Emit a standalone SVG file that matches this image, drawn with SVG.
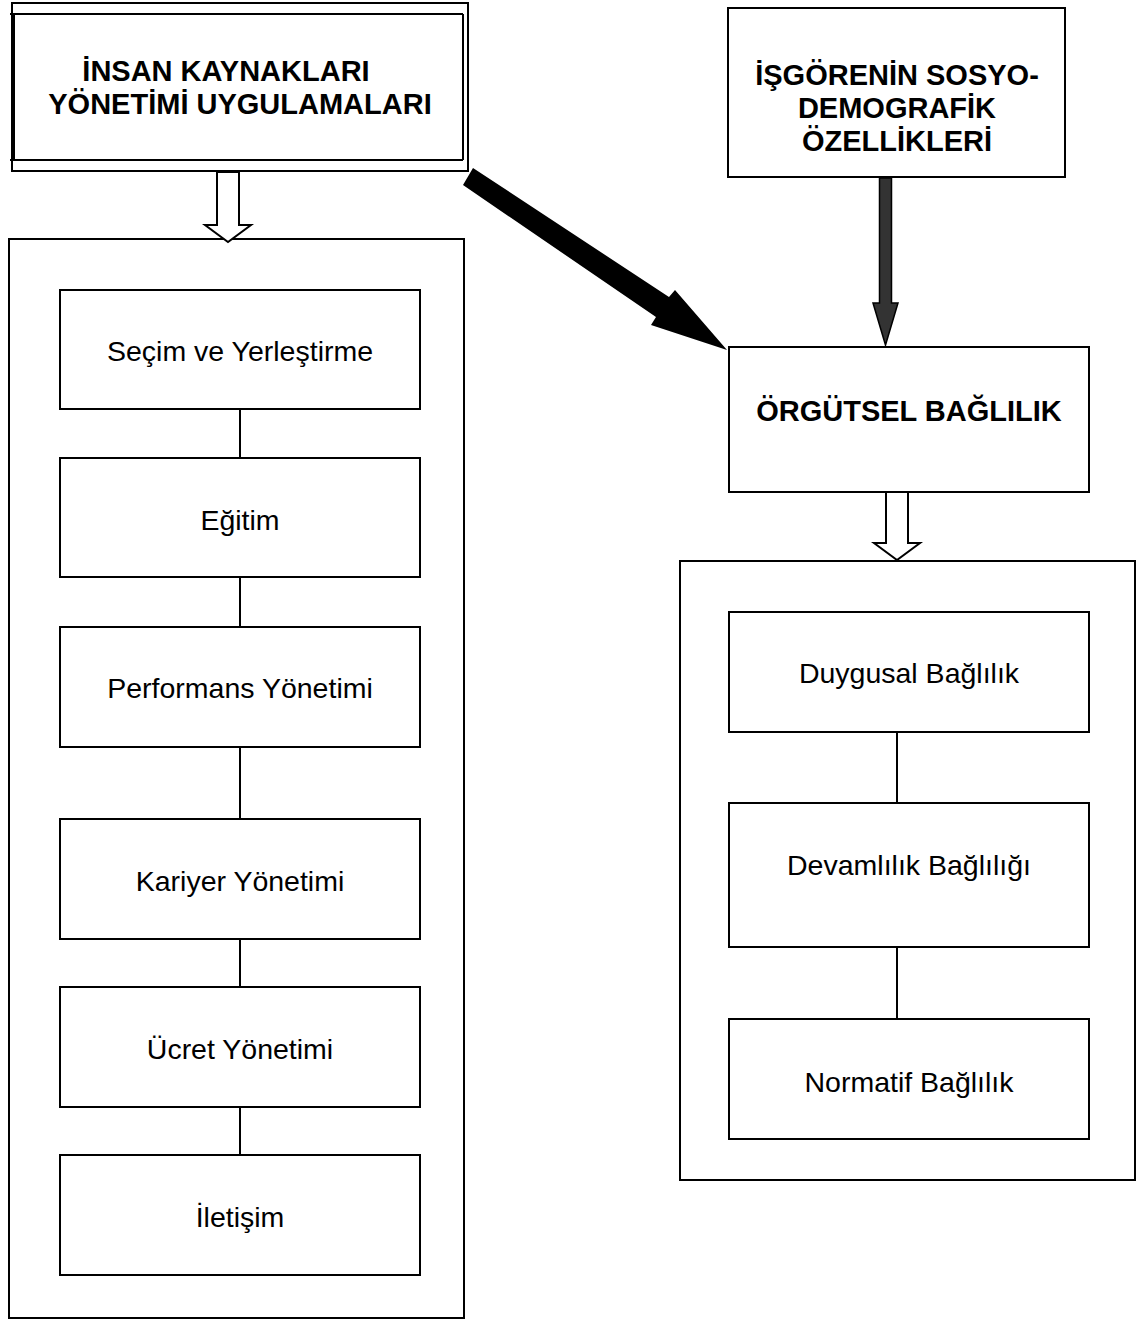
<svg xmlns="http://www.w3.org/2000/svg" width="1143" height="1319" viewBox="0 0 1143 1319">
<style>
.box{fill:#fff;stroke:#000;stroke-width:2}
.frame{fill:none;stroke:#000;stroke-width:2}
.ln{stroke:#000;stroke-width:2;fill:none}
.t{font-family:"Liberation Sans",Arial,sans-serif;font-size:28.5px;fill:#000;text-anchor:middle}
.b{font-family:"Liberation Sans",Arial,sans-serif;font-size:29px;font-weight:bold;fill:#000;text-anchor:middle}
.hollow{fill:#fff;stroke:#000;stroke-width:2;stroke-linejoin:miter}
</style>
<rect width="1143" height="1319" fill="#fff"/>

<g id="frame-left"><rect class="frame" x="9" y="239" width="455" height="1079"/></g>
<g id="frame-right"><rect class="frame" x="680" y="561" width="455" height="619"/></g>

<g id="connectors">
  <line class="ln" x1="240" y1="409" x2="240" y2="458"/>
  <line class="ln" x1="240" y1="577" x2="240" y2="627"/>
  <line class="ln" x1="240" y1="747" x2="240" y2="819"/>
  <line class="ln" x1="240" y1="939" x2="240" y2="987"/>
  <line class="ln" x1="240" y1="1107" x2="240" y2="1155"/>
  <line class="ln" x1="897" y1="732" x2="897" y2="803"/>
  <line class="ln" x1="897" y1="947" x2="897" y2="1019"/>
  <polygon class="hollow" points="217,172 239,172 239,225 251,225 228,242 205,225 217,225"/>
  <polygon class="hollow" points="886,492 908,492 908,543 920,543 897,560 874,543 886,543"/>
  <polygon fill="#333" stroke="#000" stroke-width="1.5" points="879.5,178 891.5,178 891.5,303 898,303 885.5,345 873,303 879.5,303"/>
  <polygon fill="#000" points="473,168 669,297 675,290 727,350 651,325 656,317 463,185"/>
</g>

<g id="node-ik">
  <rect class="frame" x="12" y="3" width="456" height="168"/>
  <line class="ln" x1="10" y1="14" x2="463" y2="14"/>
  <line class="ln" x1="10" y1="160" x2="463" y2="160"/>
  <line class="ln" x1="463" y1="14" x2="463" y2="160"/>
  <line class="ln" x1="14" y1="14" x2="14" y2="160"/>
  <text class="b" x="226" y="81">İNSAN KAYNAKLARI</text>
  <text class="b" x="240" y="114">YÖNETİMİ UYGULAMALARI</text>
</g>

<g id="node-sosyo">
  <rect class="box" x="728" y="8" width="337" height="169"/>
  <text class="b" x="897" y="85">İŞGÖRENİN SOSYO-</text>
  <text class="b" x="897" y="118">DEMOGRAFİK</text>
  <text class="b" x="897" y="151">ÖZELLİKLERİ</text>
</g>

<g id="node-orgutsel">
  <rect class="box" x="729" y="347" width="360" height="145"/>
  <text class="b" x="909" y="421">ÖRGÜTSEL BAĞLILIK</text>
</g>

<g id="node-secim"><rect class="box" x="60" y="290" width="360" height="119"/><text class="t" x="240" y="361">Seçim ve Yerleştirme</text></g>
<g id="node-egitim"><rect class="box" x="60" y="458" width="360" height="119"/><text class="t" x="240" y="530">Eğitim</text></g>
<g id="node-performans"><rect class="box" x="60" y="627" width="360" height="120"/><text class="t" x="240" y="698">Performans Yönetimi</text></g>
<g id="node-kariyer"><rect class="box" x="60" y="819" width="360" height="120"/><text class="t" x="240" y="891">Kariyer Yönetimi</text></g>
<g id="node-ucret"><rect class="box" x="60" y="987" width="360" height="120"/><text class="t" x="240" y="1059">Ücret Yönetimi</text></g>
<g id="node-iletisim"><rect class="box" x="60" y="1155" width="360" height="120"/><text class="t" x="240" y="1227">İletişim</text></g>

<g id="node-duygusal"><rect class="box" x="729" y="612" width="360" height="120"/><text class="t" x="909" y="683">Duygusal Bağlılık</text></g>
<g id="node-devamlilik"><rect class="box" x="729" y="803" width="360" height="144"/><text class="t" x="909" y="875">Devamlılık Bağlılığı</text></g>
<g id="node-normatif"><rect class="box" x="729" y="1019" width="360" height="120"/><text class="t" x="909" y="1092">Normatif Bağlılık</text></g>
</svg>
